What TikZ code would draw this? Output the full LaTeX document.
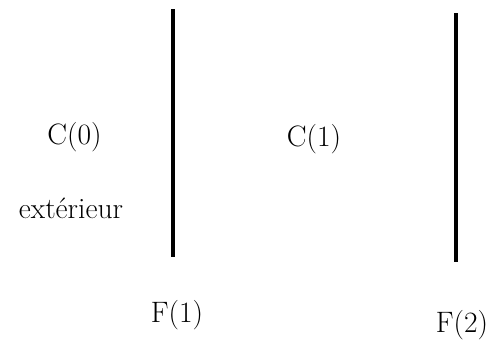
\documentclass[tikz,border=0pt]{standalone}
\usepackage{tikz}
\usetikzlibrary{positioning}

\begin{document}
\begin{tikzpicture}[
    x=0.025cm,
    y=-0.025cm,
    label/.style={
        inner sep=0pt,
        font=\fontsize{21}{25}\selectfont
    },
    frontier/.style={line width=2.6pt}
]

\useasboundingbox (0,0) rectangle (493,342);

% regions
\node[label] (c0) at (74.5,137) {C(0)};
\node[label] (ext) at (71,208) {ext\'erieur};
\node[label] (c1) at (314,139) {C(1)};

% frontiers
\coordinate (f1top) at (173,9);
\coordinate (f1bot) at (173,257);
\coordinate (f2top) at (456,13);
\coordinate (f2bot) at (456,262);

\node[label] (f1) at (177,315) {F(1)};
\node[label] (f2) at (462,325) {F(2)};

\draw[frontier] (f1top) -- (f1bot);
\draw[frontier] (f2top) -- (f2bot);

\end{tikzpicture}
\end{document}
